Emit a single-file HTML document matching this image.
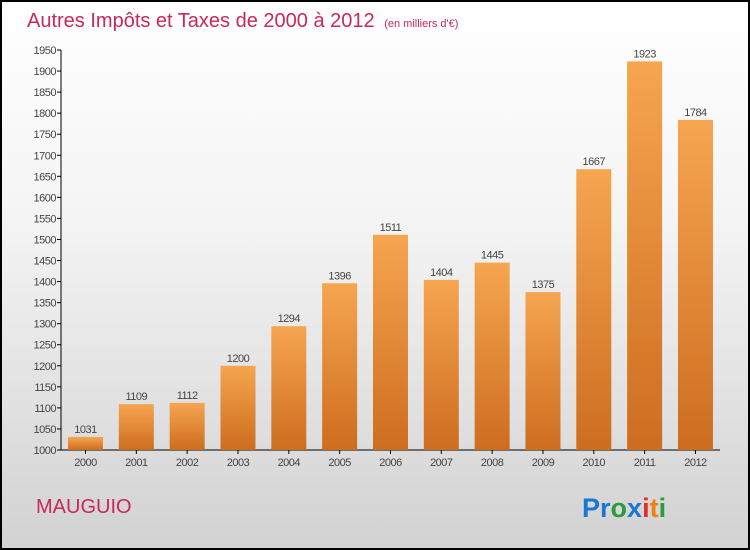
<!DOCTYPE html>
<html><head><meta charset="utf-8"><style>
html,body{margin:0;padding:0}
body{width:750px;height:550px;overflow:hidden;font-family:"Liberation Sans",sans-serif}
#bg{position:absolute;left:0;top:0;width:746px;height:546px;border:2px solid #000;background:linear-gradient(#ffffff 0%,#f4f4f4 40%,#d2d2d2 100%)}
</style></head><body>
<div id="bg"></div>
<svg id="c" width="750" height="550" style="position:absolute;left:0;top:0">
<defs><linearGradient id="g" x1="0" y1="0" x2="0" y2="1"><stop offset="0" stop-color="#f6a550"/><stop offset="1" stop-color="#cd6d1f"/></linearGradient></defs>
<text x="27" y="27" font-size="20" fill="#c8285a">Autres Impôts et Taxes de 2000 à 2012 <tspan font-size="11" dx="4">(en milliers d'€)</tspan></text>
<text x="36" y="513" font-size="20" fill="#c8285a">MAUGUIO</text>
<text x="582" y="517" font-size="27" font-weight="bold"><tspan fill="#1a78d0">Pr</tspan><tspan fill="#2a9a3a">o</tspan><tspan fill="#1a78d0">x</tspan><tspan fill="#e03020">i</tspan><tspan fill="#f08010">t</tspan><tspan fill="#2a9a3a">i</tspan></text>
<g id="axes"></g><g id="bars"></g>
</svg>
<script>
const categories=["2000","2001","2002","2003","2004","2005","2006","2007","2008","2009","2010","2011","2012"];
const values=[1031,1109,1112,1200,1294,1396,1511,1404,1445,1375,1667,1923,1784];
const ticks=[1000,1050,1100,1150,1200,1250,1300,1350,1400,1450,1500,1550,1600,1650,1700,1750,1800,1850,1900,1950];
const NS="http://www.w3.org/2000/svg";
const y=v=>450-(v-1000)*400/950;
const x=i=>85.5+i*50.83;
function mk(t,a,p){const e=document.createElementNS(NS,t);for(const k in a)e.setAttribute(k,a[k]);p.appendChild(e);return e;}
const ax=document.getElementById('axes'),bs=document.getElementById('bars');
const yl=mk('line',{x1:61,y1:y(1950),x2:61,y2:450,stroke:'#000'},ax);


const xl=mk('line',{x1:61,y1:450,x2:720,y2:450,stroke:'#000'},ax);


ticks.forEach(t=>{
  mk('line',{x1:57,x2:61,y1:y(t),y2:y(t),stroke:'#000'},ax);
  const tx=mk('text',{x:56,y:y(t)+4,'font-size':11,'text-anchor':'end',fill:'#444','letter-spacing':'-0.5'},ax);
  tx.textContent=t;
  
  
});
categories.forEach((c,i)=>{
  mk('line',{x1:x(i),x2:x(i),y1:450,y2:454,stroke:'#000'},ax);
  const tx=mk('text',{x:x(i),y:466,'font-size':11,'text-anchor':'middle',fill:'#444','letter-spacing':'-0.5'},ax);
  tx.textContent=c;
  
  
  const r=mk('rect',{x:x(i)-17.5,y:y(values[i]),width:35,height:450-y(values[i]),fill:'url(#g)'},bs);
  
  
  const v=mk('text',{x:x(i),y:y(values[i])-4,'font-size':11,'text-anchor':'middle',fill:'#444','letter-spacing':'-0.5'},bs);
  v.textContent=values[i];
  
  
});
</script>
</body></html>
